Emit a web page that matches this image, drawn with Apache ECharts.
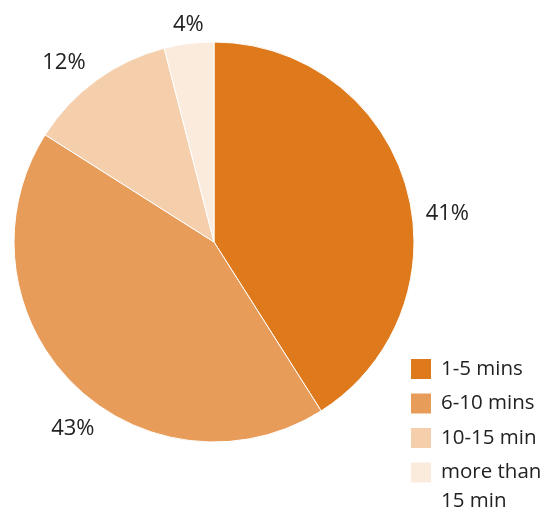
<!DOCTYPE html>
<html>
<head>
<meta charset="utf-8">
<script src="https://cdn.jsdelivr.net/npm/echarts@6/dist/echarts.min.js"></script>
<style>html,body{margin:0;padding:0;background:#fff}#c{width:557px;height:513px}</style>
</head>
<body>
<div id="c"></div>
<script>
const categories = ['1-5 mins', '6-10 mins', '10-15 min', 'more than\n15 min'];
const values = [41, 43, 12, 4];
const colors = ['#DF7A1C', '#E89C5A', '#F5CFAC', '#FAEBDC'];
const labelShift = [[5, 30], [34, 38], [0, -9], [21, -9]];

const chart = echarts.init(document.getElementById('c'));
const font = '"Open Sans", sans-serif';
chart.setOption({
  animation: false,
  backgroundColor: '#fff',
  legend: {
    orient: 'vertical',
    left: 409,
    top: 325.5,
    height: 600,
    width: 148,
    itemWidth: 22,
    itemHeight: 22,
    itemGap: -52.5,
    icon: 'rect',
    selectedMode: false,
    padding: 0,
    formatter: name => name.indexOf('\n') >= 0 ? '\n' + name : name,
    textStyle: { fontFamily: font, fontSize: 20.5, color: '#222', lineHeight: 29, padding: [29, 0, 29, 4] },
    data: categories.map(n => n.indexOf('\n') >= 0
      ? { name: n, textStyle: { padding: [0, 0, 0, 4] } }
      : { name: n })
  },
  series: [{
    type: 'pie',
    center: [214, 242],
    radius: 200,
    startAngle: 90,
    clockwise: true,
    avoidLabelOverlap: false,
    itemStyle: { borderColor: '#fff', borderWidth: 1 },
    label: {
      show: true,
      position: 'outside',
      formatter: p => p.value + '%',
      fontFamily: font,
      fontSize: 22,
      color: '#222'
    },
    labelLine: { show: false, length: 10, length2: 0 },
    labelLayout: p => ({ dx: labelShift[p.dataIndex][0], dy: labelShift[p.dataIndex][1] }),
    emphasis: { disabled: true },
    data: categories.map((n, i) => ({ name: n, value: values[i], itemStyle: { color: colors[i] } }))
  }]
});
</script>
</body>
</html>
